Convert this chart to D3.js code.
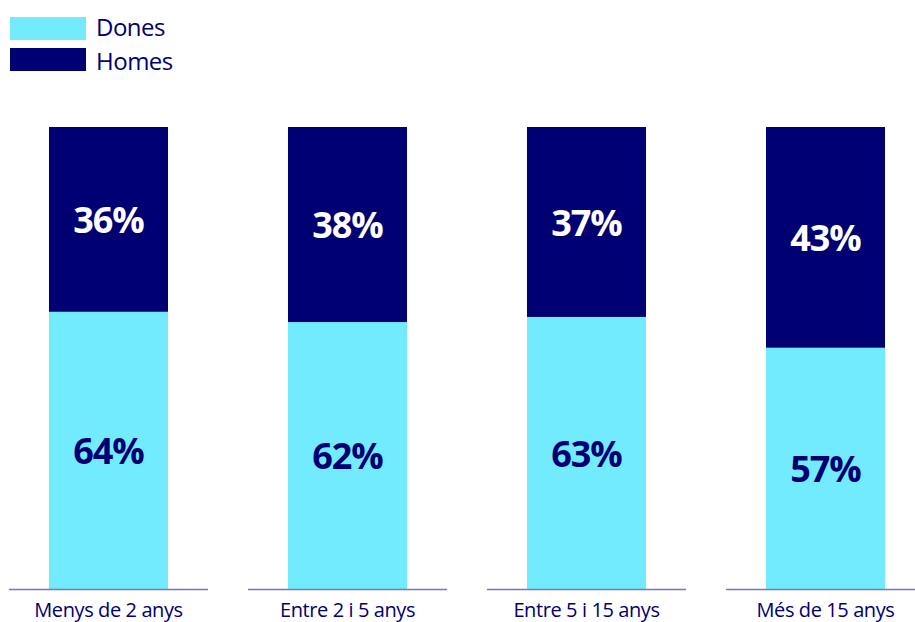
<!DOCTYPE html>
<html>
<head>
<meta charset="utf-8">
<script src="https://cdn.jsdelivr.net/npm/d3@7/dist/d3.min.js"></script>
<style>
  html, body { margin: 0; padding: 0; background: #ffffff; }
  svg { display: block; }
</style>
</head>
<body>
<svg id="chart" width="915" height="622"></svg>
<script>
// Antiguitat al lloc de treball, repartiment per sexe
const categories = ["Menys de 2 anys", "Entre 2 i 5 anys", "Entre 5 i 15 anys", "Més de 15 anys"];
const dones = [64, 62, 63, 57];
const homes = [36, 38, 37, 43];
const seriesNames = ["Dones", "Homes"];
const seriesColors = ["#72ebff", "#000072"];
const labelColors = ["#000072", "#ffffff"];

const W = 915, H = 622;
const svg = d3.select("#chart");

const fontFamily = "'Open Sans', 'Noto Sans', sans-serif";

// Horizontal band scale; the outer bands run past the frame edges
const x = d3.scaleBand()
  .domain(categories)
  .range([-11, 945])
  .paddingInner(0.502)
  .paddingOuter(0.251);

// Value axis starts at 10 %, bars clamp to the baseline
const y = d3.scaleLinear()
  .domain([10, 100])
  .range([589, 127])
  .clamp(true);

const rows = categories.map((c, i) => ({ cat: c, Dones: dones[i], Homes: homes[i] }));
const stacked = d3.stack().keys(seriesNames)(rows);

const g = svg.append("g");

stacked.forEach((layer, si) => {
  const lg = g.append("g");
  lg.selectAll("rect")
    .data(layer)
    .join("rect")
    .attr("x", d => x(d.data.cat))
    .attr("width", x.bandwidth())
    .attr("y", d => y(d[1]))
    .attr("height", d => y(d[0]) - y(d[1]))
    .attr("fill", seriesColors[si]);

  lg.selectAll("text")
    .data(layer)
    .join("text")
    .attr("x", d => x(d.data.cat) + x.bandwidth() / 2)
    .attr("y", d => (y(d[0]) + y(d[1])) / 2)
    .attr("dy", "0.38em")
    .attr("text-anchor", "middle")
    .attr("font-family", fontFamily)
    .attr("font-weight", 700)
    .attr("font-size", 36)
    .attr("letter-spacing", "-1px")
    .attr("fill", labelColors[si])
    .text(d => (d[1] - d[0]) + "%");
});

// Baseline drawn as one segment per category
const segW = x.step() * 0.833;
g.append("g").selectAll("line")
  .data(categories)
  .join("line")
  .attr("x1", c => x(c) + x.bandwidth() / 2 - segW / 2)
  .attr("x2", c => x(c) + x.bandwidth() / 2 + segW / 2)
  .attr("y1", 589.5)
  .attr("y2", 589.5)
  .attr("stroke", "#7676c4")
  .attr("stroke-width", 1.5);

// Category labels
g.append("g").selectAll("text")
  .data(categories)
  .join("text")
  .attr("x", c => x(c) + x.bandwidth() / 2)
  .attr("y", 617)
  .attr("text-anchor", "middle")
  .attr("font-family", fontFamily)
  .attr("font-size", 20)
  .attr("letter-spacing", "-0.4px")
  .attr("fill", "#000072")
  .text(c => c);

// Legend
const legend = svg.append("g");
const legendTextY = [36, 70];
seriesNames.forEach((name, i) => {
  const ly = 17 + i * 31;
  legend.append("rect")
    .attr("x", 10).attr("y", ly)
    .attr("width", 76).attr("height", 23)
    .attr("fill", seriesColors[i]);
  legend.append("text")
    .attr("x", 96).attr("y", legendTextY[i])
    .attr("font-family", fontFamily)
    .attr("font-size", 24)
    .attr("letter-spacing", "-0.5px")
    .attr("fill", "#000072")
    .text(name);
});
</script>
</body>
</html>
